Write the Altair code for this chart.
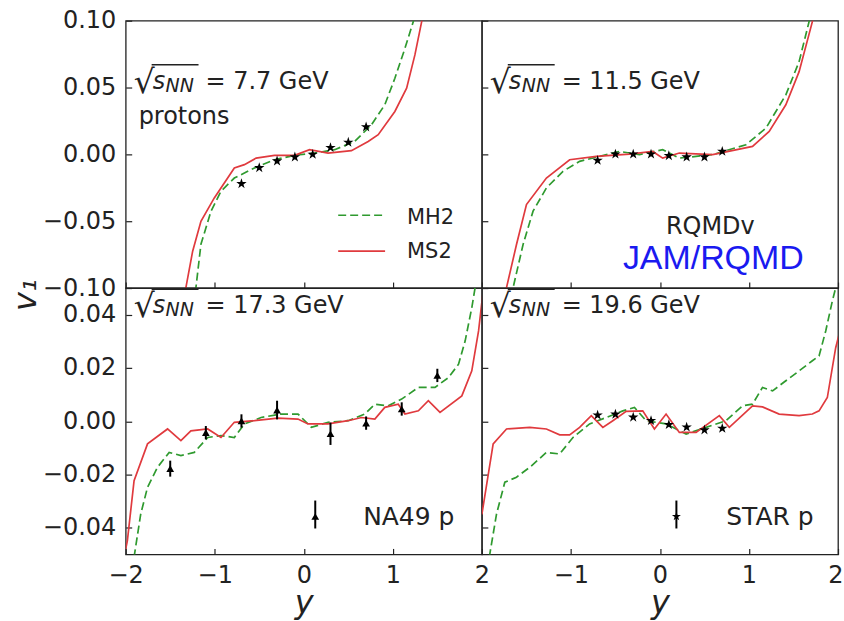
import altair as alt
import pandas as pd

FONT = "DejaVu Sans"
INK = "#222222"
GREEN = "#2f9a2f"
RED = "#e03a3e"
BLUE = "#1a1af0"

# ---------------- axes / labels ----------------
X_TICKS_LEFT = [-2, -1, 0, 1, 2]
X_TICKS_RIGHT = [-1, 0, 1, 2]
X_DOMAIN = [-2, 2]
Y_TICKS_TOP = [-0.10, -0.05, 0.0, 0.05, 0.10]
Y_TICKS_BOTTOM = [-0.04, -0.02, 0.0, 0.02, 0.04]
Y_DOMAIN_TOP = [-0.10, 0.10]
Y_DOMAIN_BOTTOM = [-0.05, 0.05]
ENERGIES = ["7.7", "11.5", "17.3", "19.6"]
STAR_Y = [-0.7, -0.5, -0.3, -0.1, 0.1, 0.3, 0.5, 0.7]

# ---------------- panel 1: 7.7 GeV ----------------
mh2_77_x = [-1.26, -1.211, -1.155, -1.042, -0.930, -0.780, -0.554, -0.329, -0.103, 0.122, 0.347,
            0.572, 0.761, 0.910, 1.023, 1.136, 1.230, 1.27]
mh2_77_v = [-0.13, -0.0995, -0.0672, -0.0425, -0.0276, -0.0177, -0.0102, -0.0040, -0.0007, 0.001,
            0.0035, 0.0097, 0.0222, 0.0371, 0.0569, 0.0793, 0.0993, 0.12]
ms2_77_x = [-1.37, -1.324, -1.248, -1.155, -1.005, -0.780, -0.667, -0.535, -0.329, -0.103, 0.065,
            0.273, 0.535, 0.723, 0.836, 1.023, 1.155, 1.248, 1.324, 1.36]
ms2_77_v = [-0.125, -0.0997, -0.0724, -0.05, -0.0326, -0.0102, -0.0077, -0.0028, -0.0007, -0.0007,
            0.0035, 0.001, 0.0028, 0.0097, 0.0147, 0.0321, 0.0495, 0.0744, 0.0993, 0.115]
star_77_v = [-0.022, -0.010, -0.005, -0.002, 0.0, 0.005, 0.009, 0.0205]

# ---------------- panel 2: 11.5 GeV ----------------
mh2_115_x = [-1.69, -1.649, -1.537, -1.425, -1.275, -1.089, -0.902, -0.678, -0.454, -0.230, 0.031,
             0.218, 0.592, 0.966, 1.190, 1.414, 1.563, 1.675, 1.72]
mh2_115_v = [-0.125, -0.0997, -0.0674, -0.0425, -0.0251, -0.0127, -0.0052, -0.0015, 0.0022, -0.0002,
             0.0035, -0.0028, -0.0002, 0.0072, 0.0196, 0.0445, 0.0694, 0.0993, 0.115]
ms2_115_x = [-1.76, -1.723, -1.611, -1.499, -1.275, -1.014, -0.715, -0.342, -0.081, 0.031, 0.218,
             0.592, 1.040, 1.227, 1.414, 1.563, 1.712, 1.75]
ms2_115_v = [-0.125, -0.0997, -0.0674, -0.0375, -0.0177, -0.004, -0.0015, 0.0002, 0.0022, -0.0028,
             0.001, -0.0002, 0.006, 0.0172, 0.0371, 0.0619, 0.0993, 0.115]
star_115_v = [-0.0045, 0.0002, 0.0002, 0.0002, -0.001, -0.002, -0.002, 0.0022]

# ---------------- panel 3: 17.3 GeV ----------------
mh2_173_x = [-1.93, -1.906, -1.831, -1.755, -1.643, -1.512, -1.380, -1.230, -1.079, -0.930, -0.780,
             -0.667, -0.479, -0.254, -0.065, 0.085, 0.273, 0.498, 0.685, 0.798, 0.949, 1.099, 1.287,
             1.474, 1.625, 1.738, 1.812, 1.887, 1.924, 1.95]
mh2_173_v = [-0.06, -0.051, -0.0348, -0.0248, -0.0173, -0.0117, -0.0129, -0.0117, -0.0061, -0.0054,
             -0.0061, -0.001, 0.0014, 0.0027, 0.0027, -0.0023, -0.0004, 0.0002, 0.0027, 0.0064,
             0.0058, 0.0083, 0.0127, 0.0127, 0.0164, 0.0214, 0.0301, 0.0426, 0.0501, 0.06]
ms2_173_x = [-2.0, -1.981, -1.906, -1.755, -1.530, -1.380, -1.268, -1.079, -0.930, -0.780, -0.554,
             -0.291, -0.065, 0.047, 0.273, 0.498, 0.648, 0.798, 0.910, 1.061, 1.136, 1.287, 1.399,
             1.530, 1.775, 1.887, 1.963, 2.02]
ms2_173_v = [-0.048, -0.0448, -0.0223, -0.0085, -0.0029, -0.0073, -0.0036, -0.0029, -0.0061, -0.0004,
             0.0002, 0.0012, 0.0008, -0.001, -0.001, 0.0002, 0.0014, 0.0008, 0.0052, 0.0064, 0.0027,
             0.0039, 0.0077, 0.0033, 0.0095, 0.0189, 0.0339, 0.0505]
na49_x = [-1.5, -1.1, -0.7, -0.3, 0.3, 0.7, 1.1, 1.5]
na49_v = [-0.0178, -0.0043, 0.0001, 0.0042, -0.0047, -0.0007, 0.0046, 0.0172]
na49_err = [0.003, 0.0025, 0.0025, 0.0035, 0.0042, 0.0025, 0.0025, 0.0025]

# ---------------- panel 4: 19.6 GeV ----------------
mh2_196_x = [-1.93, -1.910, -1.835, -1.742, -1.611, -1.462, -1.275, -1.126, -0.977, -0.790, -0.603,
             -0.417, -0.286, -0.155, 0.069, 0.294, 0.518, 0.742, 0.928, 1.040, 1.152, 1.265, 1.414,
             1.563, 1.712, 1.787, 1.862, 1.936, 1.974, 2.0]
mh2_196_v = [-0.06, -0.0497, -0.0348, -0.0229, -0.021, -0.0173, -0.0117, -0.0123, -0.0061, -0.001,
             0.0014, 0.0039, 0.0052, 0.0002, -0.001, -0.0048, -0.0023, 0.0002, 0.0058, 0.0064, 0.0127,
             0.0114, 0.0152, 0.0189, 0.0227, 0.0245, 0.0339, 0.0451, 0.0501, 0.056]
ms2_196_x = [-2.0, -1.873, -1.723, -1.462, -1.275, -1.126, -1.014, -0.902, -0.771, -0.641, -0.529,
             -0.379, -0.193, -0.062, 0.069, 0.218, 0.406, 0.667, 0.779, 1.040, 1.152, 1.339, 1.563,
             1.712, 1.787, 1.880, 1.974, 2.05]
ms2_196_v = [-0.035, -0.0085, -0.0029, -0.0023, -0.0029, -0.0051, -0.0051, -0.0023, 0.0021, -0.0023,
             0.0002, 0.0037, 0.0039, -0.0029, 0.0027, -0.0042, -0.0042, 0.0021, -0.0023, 0.0058,
             0.0054, 0.0027, 0.0021, 0.0027, 0.0039, 0.0089, 0.0276, 0.0376]
star_196_v = [0.0023, 0.0026, 0.0015, 0.0002, -0.0013, -0.0022, -0.0033, -0.0027]

STAR_PATH = ("M0,-1L0.225,-0.309L0.951,-0.309L0.363,0.118L0.588,0.809L0,0.382"
             "L-0.588,0.809L-0.363,0.118L-0.951,-0.309L-0.225,-0.309Z")

W = 357
H_TOP = 268
H_BOT = 267


def x_axis(show_labels, values, flush):
    kw = dict(values=values, grid=False, domain=False, offset=-6, tickSize=6,
              tickColor=INK, tickWidth=1.2, labels=show_labels)
    if show_labels:
        kw.update(format="d", labelFont=FONT, labelFontSize=24, labelColor=INK,
                  labelPadding=9, labelOverlap=False, labelFlush=flush,
                  titleFont=FONT, titleFontSize=32, titleFontStyle="italic",
                  titleFontWeight="normal", titleColor=INK, titlePadding=0)
        if flush:
            kw["labelFlushOffset"] = 5
    return alt.Axis(**kw)


def y_axis(show_labels, values):
    kw = dict(values=values, grid=False, domain=False, offset=-6, tickSize=6,
              tickColor=INK, tickWidth=1.2, labels=show_labels)
    if show_labels:
        kw.update(format=".2f", labelFont=FONT, labelFontSize=24, labelColor=INK,
                  labelPadding=10, labelOverlap=False)
    return alt.Axis(**kw)


def text(label, x, y, size=24, color=INK, style="normal", align="left",
         font=FONT, baseline="alphabetic", angle=0):
    return alt.Chart(pd.DataFrame({"t": [label]})).mark_text(
        font=font, fontSize=size, color=color, fontStyle=style, align=align,
        baseline=baseline, angle=angle
    ).encode(x=alt.value(x), y=alt.value(y), text="t:N")


def hline(x1, x2, y, color, width=1.6, dash=None):
    kw = dict(color=color, strokeWidth=width)
    if dash:
        kw["strokeDash"] = dash
    return alt.Chart(pd.DataFrame({"t": [0]})).mark_rule(**kw).encode(
        x=alt.value(x1), x2=alt.value(x2), y=alt.value(y))


def bar(x1, x2, y1, y2, color):
    return alt.Chart(pd.DataFrame({"t": [0]})).mark_rect(color=color).encode(
        x=alt.value(x1), x2=alt.value(x2), y=alt.value(y1), y2=alt.value(y2))


def energy_label(energy, base):
    return [
        text("\u221a", 8, base + 4, size=33),
        text("s", 27, base, style="italic"),
        text("NN", 40, base + 3, size=19, style="italic"),
        bar(26, 73, base - 24.5, base - 23.1, INK),
        text("= " + energy + " GeV", 80, base),
    ]


def panel(energy, mh2_x, mh2_v, ms2_x, ms2_v, pts_x, pts_v, pts_err, shape, pts_size,
          left, bottom, extras):
    height = H_BOT if bottom else H_TOP
    ydom = Y_DOMAIN_BOTTOM if bottom else Y_DOMAIN_TOP
    yticks = Y_TICKS_BOTTOM if bottom else Y_TICKS_TOP
    xvals = X_TICKS_LEFT if left else X_TICKS_RIGHT
    xkw = dict(scale=alt.Scale(domain=X_DOMAIN, nice=False, zero=False),
               axis=x_axis(bottom, xvals, flush=not left))
    if bottom:
        xkw["title"] = "y"
    else:
        xkw["title"] = None
    xenc = alt.X("x:Q", **xkw)
    yscale = alt.Scale(domain=ydom, nice=False, zero=False)
    yenc = alt.Y("v:Q", scale=yscale, axis=y_axis(left, yticks), title=None)

    mh2 = alt.Chart(pd.DataFrame({"x": mh2_x, "v": mh2_v})).mark_line(
        clip=True, color=GREEN, strokeWidth=1.7, strokeDash=[8, 4]).encode(x=xenc, y=yenc)
    ms2 = alt.Chart(pd.DataFrame({"x": ms2_x, "v": ms2_v})).mark_line(
        clip=True, color=RED, strokeWidth=1.7).encode(x=xenc, y=yenc)
    layers = [mh2, ms2]
    pdf = pd.DataFrame({"x": pts_x, "v": pts_v})
    if pts_err is not None:
        pdf["lo"] = [v - e for v, e in zip(pts_v, pts_err)]
        pdf["hi"] = [v + e for v, e in zip(pts_v, pts_err)]
        layers.append(alt.Chart(pdf).mark_rule(color="black", strokeWidth=2).encode(
            x=xenc, y=alt.Y("lo:Q", scale=yscale, axis=y_axis(left, yticks), title=None),
            y2="hi:Q"))
    layers.append(alt.Chart(pdf).mark_point(
        filled=True, color="black", opacity=1, size=pts_size).encode(
        x=xenc, y=yenc, shape=alt.value(shape)))
    base = 25 if bottom else 68
    layers += energy_label(energy, base)
    layers += extras
    return alt.layer(*layers).properties(width=W, height=height)


extras1 = [
    text("protons", 13, 104),
    hline(213, 260, 195, GREEN, width=1.7, dash=[8, 4]),
    hline(213, 260, 231, RED, width=1.7),
    text("MH2", 282, 204, size=21),
    text("MS2", 282, 238, size=21),
    text("v\u2081", -90, 275, size=32, style="italic", align="center", angle=270),
]
extras2 = [
    text("RQMDv", 229, 214, size=24, align="center"),
    text("JAM/RQMD", 232, 249, size=34, color=BLUE, align="center", font="Liberation Sans"),
]
extras3 = [
    alt.Chart(pd.DataFrame({"t": [0]})).mark_rule(color="black", strokeWidth=2).encode(
        x=alt.value(190), y=alt.value(213), y2=alt.value(241)),
    alt.Chart(pd.DataFrame({"t": [0]})).mark_point(
        filled=True, color="black", opacity=1, size=60).encode(
        x=alt.value(190), y=alt.value(229), shape=alt.value("triangle-up")),
    text("NA49 p", 238, 238, size=25),
]
extras4 = [
    alt.Chart(pd.DataFrame({"t": [0]})).mark_rule(color="black", strokeWidth=2).encode(
        x=alt.value(195), y=alt.value(213), y2=alt.value(241)),
    alt.Chart(pd.DataFrame({"t": [0]})).mark_point(
        filled=True, color="black", opacity=1, size=90).encode(
        x=alt.value(195), y=alt.value(229), shape=alt.value(STAR_PATH)),
    text("STAR p", 245, 238, size=25),
]

p1 = panel(ENERGIES[0], mh2_77_x, mh2_77_v, ms2_77_x, ms2_77_v, STAR_Y, star_77_v, None,
           STAR_PATH, 120, True, False, extras1)
p2 = panel(ENERGIES[1], mh2_115_x, mh2_115_v, ms2_115_x, ms2_115_v, STAR_Y, star_115_v, None,
           STAR_PATH, 120, False, False, extras2)
p3 = panel(ENERGIES[2], mh2_173_x, mh2_173_v, ms2_173_x, ms2_173_v, na49_x, na49_v, na49_err,
           "triangle-up", 60, True, True, extras3)
p4 = panel(ENERGIES[3], mh2_196_x, mh2_196_v, ms2_196_x, ms2_196_v, STAR_Y, star_196_v, None,
           STAR_PATH, 120, False, True, extras4)

chart = alt.concat(p1, p2, p3, p4, columns=2, spacing=0, bounds="flush").properties(
    padding={"left": 9, "top": 7, "right": 0, "bottom": 0}
).configure(
    background="white",
    view=alt.ViewConfig(stroke=INK, strokeWidth=1.3),
)

chart.save("out.html", embed_options={"renderer": "svg", "actions": False})
